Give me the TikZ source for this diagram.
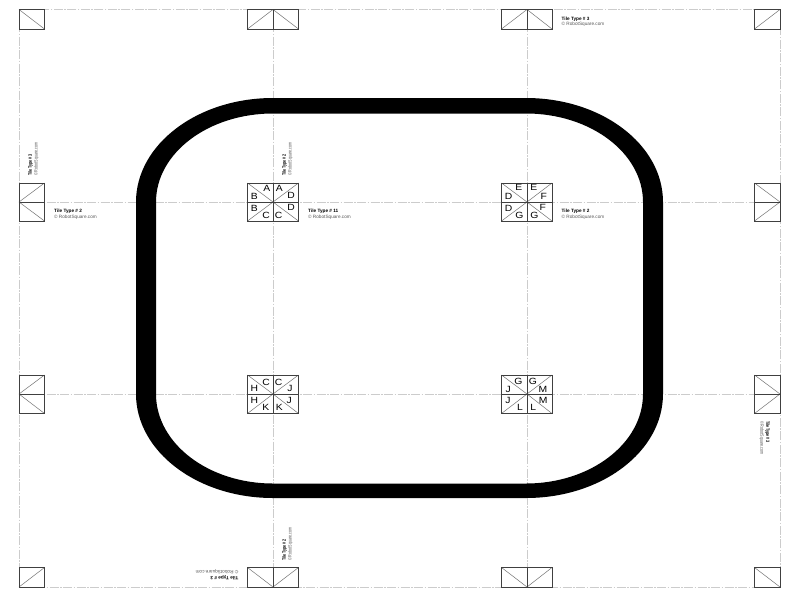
\documentclass[tikz,border=0pt]{standalone}
\usepackage{graphicx}
\usepackage{fontspec}
\setmainfont{Liberation Sans}
\definecolor{gridc}{gray}{0.8}
\definecolor{creditc}{gray}{0.35}
\tikzset{
  x=1pt,y=-1pt,
  gridline/.style={draw=gridc,line width=0.7pt,dash pattern=on 9pt off 1.5pt on 1.5pt off 1.5pt},
  tile/.style={draw=black!75,line width=1pt},
  diag/.style={draw=black!55,line width=0.5pt},
  letter/.style={inner sep=0pt,font=\fontsize{9}{10}\selectfont},
  caption/.style={inner sep=0pt,align=left,anchor=north west,font=\fontsize{4.7}{5.6}\selectfont},
}
\newcommand{\tilecap}[1]{\textbf{Tile Type \# #1}\\\textcolor{creditc}{© RobotSquare.com}}
\newcommand{\sidecap}[1]{\scalebox{.78}[1.05]{\begin{tabular}{@{}l@{}}\textbf{Tile Type \# #1}\\\textcolor{creditc}{© RobotSquare.com}\end{tabular}}}
\newcommand{\cellb}[4]{\draw[diag] (#1,#2) -- (#3,#4); \draw[tile] (#1,#2) rectangle (#3,#4);}
\newcommand{\cellf}[4]{\draw[diag] (#1,#4) -- (#3,#2); \draw[tile] (#1,#2) rectangle (#3,#4);}
\begin{document}
\begin{tikzpicture}
\useasboundingbox (0,0) rectangle (800,600);
\fill[white] (0,0) rectangle (800,600);
% grid
\draw[gridline] (19.5,9.5) rectangle (780,587);
\draw[gridline] (273,9.5) -- (273,587);
\draw[gridline] (527,9.5) -- (527,587);
\draw[gridline] (19.5,202) -- (780,202);
\draw[gridline] (19.5,394) -- (780,394);
% track
\fill[black,even odd rule]
  (136,202) arc[start angle=180,end angle=90,x radius=137,y radius=-104]
  -- (526,98) arc[start angle=90,end angle=0,x radius=137,y radius=-104]
  -- (663,394) arc[start angle=0,end angle=-90,x radius=137,y radius=-104]
  -- (273,498) arc[start angle=-90,end angle=-180,x radius=137,y radius=-104]
  -- cycle
  (156,202) arc[start angle=180,end angle=90,x radius=117,y radius=-88.5]
  -- (526,113.5) arc[start angle=90,end angle=0,x radius=117,y radius=-88.5]
  -- (643,394) arc[start angle=0,end angle=-90,x radius=117,y radius=-89.5]
  -- (273,483.5) arc[start angle=-90,end angle=-180,x radius=117,y radius=-89.5]
  -- cycle;
% top row
\cellb{19}{9.5}{44.5}{29}
\cellf{247.5}{9.5}{273}{29}\cellb{273}{9.5}{298.5}{29}
\cellf{501.5}{9.5}{527}{29}\cellb{527}{9.5}{552}{29}
\cellf{754.5}{9.5}{780}{29}
% second row
\cellf{19}{183}{44.5}{202}\cellb{19}{202}{44.5}{221}
\cellb{247.5}{183}{273}{202}\cellf{273}{183}{298.5}{202}
\cellf{247.5}{202}{273}{221}\cellb{273}{202}{298.5}{221}
\cellb{501.5}{183}{527}{202}\cellf{527}{183}{552}{202}
\cellf{501.5}{202}{527}{221}\cellb{527}{202}{552}{221}
\cellb{754.5}{183}{780}{202}\cellf{754.5}{202}{780}{221}
% third row
\cellf{19}{375}{44.5}{394}\cellb{19}{394}{44.5}{413.5}
\cellb{247.5}{375}{273}{394}\cellf{273}{375}{298.5}{394}
\cellf{247.5}{394}{273}{413.5}\cellb{273}{394}{298.5}{413.5}
\cellb{501.5}{375}{527}{394}\cellf{527}{375}{552}{394}
\cellf{501.5}{394}{527}{413.5}\cellb{527}{394}{552}{413.5}
\cellb{754.5}{375}{780}{394}\cellf{754.5}{394}{780}{413.5}
% bottom row
\cellf{19}{567.5}{44.5}{587}
\cellb{247.5}{567.5}{273}{587}\cellf{273}{567.5}{298.5}{587}
\cellb{501.5}{567.5}{527}{587}\cellf{527}{567.5}{552}{587}
\cellb{754.5}{567.5}{780}{587}
% letters
\foreach \n/\l/\px/\py in {
 a1/A/266.7/188.7, a2/A/279.3/188.7, b1/B/254.3/196, b2/B/254.3/208, c1/C/266/215, c2/C/278.7/215, d1/D/291/195.7, d2/D/291/207.3,
 e1/E/518.7/187.7, e2/E/533.7/187.7, f1/F/543.7/196, f2/F/542.7/207, g1/G/519.3/215.3, g2/G/534.3/215.3, dd1/D/508.7/196, dd2/D/508.7/208,
 c3/C/266/382.3, c4/C/278.7/382, h1/H/254.3/388.7, h2/H/254.3/400.7, k1/K/265.7/407.7, k2/K/279.3/407.7, j1/J/290/388.3, j2/J/289.3/400.7,
 g3/G/518.3/381, g4/G/533/381, j3/J/508.3/389.3, j4/J/508/400, l1/L/520/407.3, l2/L/533.3/407.3, m1/M/543/389.3, m2/M/543.3/400}
{\node[letter] (\n) at (\px,\py) {\scalebox{1.15}[1]{\l}};}
% captions
\node[caption] (t1) at (54,209) {\tilecap{2}};
\node[caption] (t2) at (308,209) {\tilecap{11}};
\node[caption] (t3) at (561.5,209) {\tilecap{2}};
\node[caption] (t4) at (561.5,16.5) {\tilecap{3}};
\node[caption,rotate=90] (t5) at (27.5,176) {\sidecap{3}};
\node[caption,rotate=90] (t6) at (281.5,176) {\sidecap{2}};
\node[caption,rotate=90] (t7) at (281.5,561) {\sidecap{2}};
\node[caption,rotate=-90] (t8) at (770.5,421) {\sidecap{3}};
\node[caption,rotate=180] (t9) at (238.5,580) {\tilecap{3}};
\end{tikzpicture}
\end{document}
